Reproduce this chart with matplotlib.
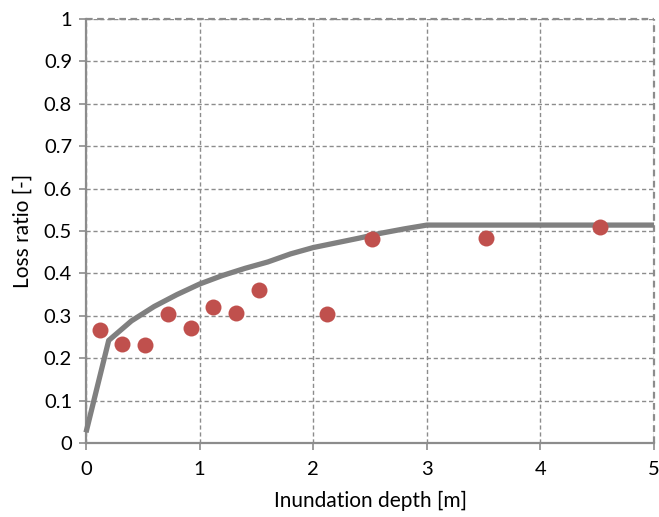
import matplotlib
matplotlib.use("Agg")
import matplotlib.pyplot as plt

# Model curve (vertices)
curve_x = [0.0, 0.2, 0.4, 0.6, 0.8, 1.0, 1.2, 1.4, 1.6, 1.8, 2.0, 2.2, 2.4, 2.6, 2.8, 3.0, 5.0]
curve_y = [0.025, 0.242, 0.288, 0.322, 0.350, 0.375, 0.395, 0.412, 0.427, 0.446, 0.461, 0.472, 0.483, 0.495, 0.505, 0.514, 0.514]

# Observed data points
obs_x = [0.12, 0.32, 0.52, 0.72, 0.92, 1.12, 1.32, 1.52, 2.12, 2.52, 3.52, 4.52]
obs_y = [0.267, 0.234, 0.231, 0.305, 0.271, 0.320, 0.306, 0.362, 0.305, 0.481, 0.484, 0.509]

x_ticks = [0, 1, 2, 3, 4, 5]
y_ticks = [0, 0.1, 0.2, 0.3, 0.4, 0.5, 0.6, 0.7, 0.8, 0.9, 1.0]
y_labels = ["0", "0.1", "0.2", "0.3", "0.4", "0.5", "0.6", "0.7", "0.8", "0.9", "1"]

plt.rcParams['font.family'] = ['Lato', 'DejaVu Sans']

fig = plt.figure(figsize=(6.59, 5.17), dpi=100)
ax = fig.add_axes([0.1305, 0.1431, 0.862, 0.8201])

grid_col = '#8c8c8c'
ax.set_xlim(0, 5)
ax.set_ylim(0, 1)
ax.set_xticks(x_ticks)
ax.set_xticklabels([str(t) for t in x_ticks])
ax.set_yticks(y_ticks)
ax.set_yticklabels(y_labels)

ax.grid(True, color=grid_col, linestyle=(0, (3, 2)), linewidth=1.0)
ax.set_axisbelow(True)

for side in ['top', 'right']:
    ax.spines[side].set_visible(False)
for side in ['left', 'bottom']:
    ax.spines[side].set_color(grid_col)
    ax.spines[side].set_linewidth(1.6)
# dashed top/right borders
ax.axhline(1.0, color=grid_col, linestyle=(0, (3, 2)), linewidth=1.6, zorder=0.5, clip_on=False)
ax.axvline(5.0, color=grid_col, linestyle=(0, (3, 2)), linewidth=1.6, zorder=0.5, clip_on=False)

ax.tick_params(axis='both', direction='out', length=5, width=1.2, color=grid_col,
               labelsize=14.5, labelcolor='#000000')
ax.tick_params(axis='x', pad=8)
ax.tick_params(axis='y', pad=5)

ax.plot(curve_x, curve_y, color='#808080', linewidth=3.8, solid_capstyle='butt', zorder=3, clip_on=False)
ax.plot(obs_x, obs_y, linestyle='none', marker='o', markersize=11.5, color='#C0504D',
        markeredgewidth=0, zorder=4)

ax.set_xlabel('Inundation depth [m]', fontsize=15, labelpad=9)
ax.set_ylabel('Loss ratio [-]', fontsize=15, labelpad=8)

fig.savefig('out.png', dpi=100)
